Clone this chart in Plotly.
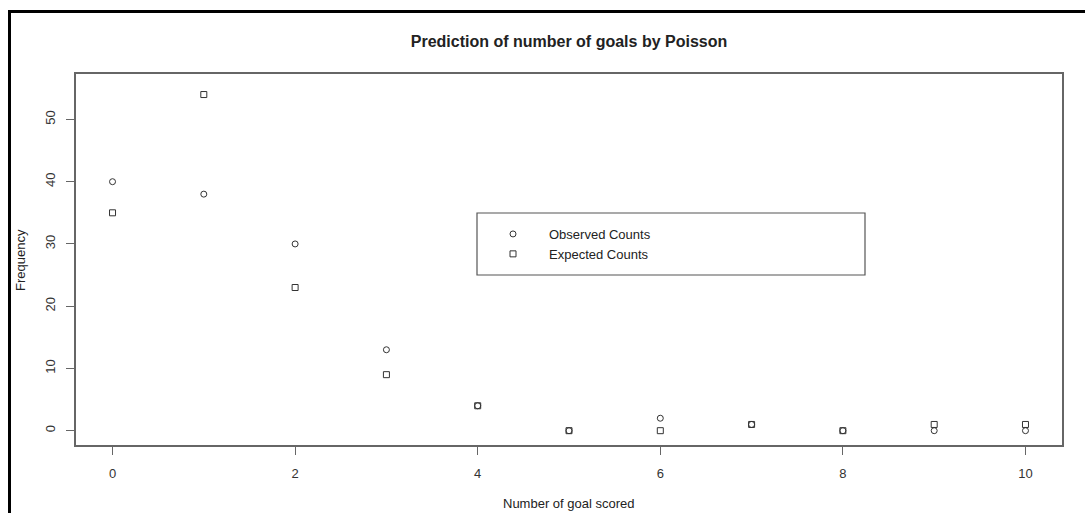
import plotly.graph_objects as go

# Goals scored per match and how often each count occurred
goals = [0, 1, 2, 3, 4, 5, 6, 7, 8, 9, 10]
observed_counts = [40, 38, 30, 13, 4, 0, 2, 1, 0, 0, 0]
expected_counts = [35, 54, 23, 9, 4, 0, 0, 1, 0, 1, 1]

x_ticks = [0, 2, 4, 6, 8, 10]
y_ticks = [0, 10, 20, 30, 40, 50]

W, H = 1085, 513
L, R, T, B = 76, 1062, 74, 445  # plot area edges in pixels


def px_x(px):
    return (px - L) / (R - L)


def px_y(py):
    return (B - py) / (B - T)


FONT = "Liberation Sans, Arial, sans-serif"
INK = "#222222"
AXIS = "#666666"
MARK = "#333333"

fig = go.Figure()
fig.add_trace(go.Scatter(
    x=goals, y=observed_counts, mode="markers", name="Observed Counts",
    marker=dict(symbol="circle-open", size=6, color=MARK, line=dict(width=1, color=MARK)),
))
fig.add_trace(go.Scatter(
    x=goals, y=expected_counts, mode="markers", name="Expected Counts",
    marker=dict(symbol="square-open", size=6, color=MARK, line=dict(width=1, color=MARK)),
))

axis_common = dict(
    showgrid=False, zeroline=False, showline=True, mirror=True,
    linecolor=AXIS, linewidth=1.5, ticks="outside", ticklen=8,
    tickcolor=AXIS, tickwidth=1, tickfont=dict(family=FONT, size=13, color="#333333"),
)

fig.update_layout(
    width=W, height=H,
    margin=dict(l=L, r=W - R, t=T, b=H - B, pad=0),
    paper_bgcolor="white", plot_bgcolor="white",
    font=dict(family=FONT, size=13, color=INK),
    title=dict(
        text="<b>Prediction of number of goals by Poisson</b>",
        x=px_x(569), xref="paper", xanchor="center",
        y=1 - 41 / H, yref="container", yanchor="middle",
        font=dict(family=FONT, size=16, color=INK),
    ),
    xaxis=dict(axis_common, range=[-0.4, 10.4], tickvals=x_ticks, ticklabelstandoff=8),
    yaxis=dict(axis_common, range=[-2.3, 57.3], tickvals=y_ticks, tickangle=-90,
               ticklabelstandoff=6),
    showlegend=True,
    legend=dict(
        x=px_x(477), y=px_y(219), xanchor="left", yanchor="top",
        bgcolor="rgba(0,0,0,0)", borderwidth=0,
        font=dict(family=FONT, size=13, color=INK),
        itemwidth=62,
    ),
    annotations=[
        dict(text="Number of goal scored", xref="paper", yref="paper",
             x=px_x(569), y=px_y(503), xanchor="center", yanchor="middle",
             showarrow=False, font=dict(family=FONT, size=13, color=INK)),
        dict(text="Frequency", xref="paper", yref="paper",
             x=px_x(20), y=px_y(260), xanchor="center", yanchor="middle",
             textangle=-90, showarrow=False, font=dict(family=FONT, size=13, color=INK)),
    ],
    shapes=[
        # legend frame
        dict(type="rect", xref="paper", yref="paper",
             x0=px_x(477), x1=px_x(865), y0=px_y(275), y1=px_y(213),
             line=dict(color="#555555", width=1.2)),
        # outer figure frame (left and top edges visible)
        dict(type="rect", xref="paper", yref="paper",
             x0=px_x(9.5), x1=px_x(1100), y0=px_y(540), y1=px_y(11.5),
             line=dict(color="black", width=3)),
    ],
)

fig.write_html("out.html")
